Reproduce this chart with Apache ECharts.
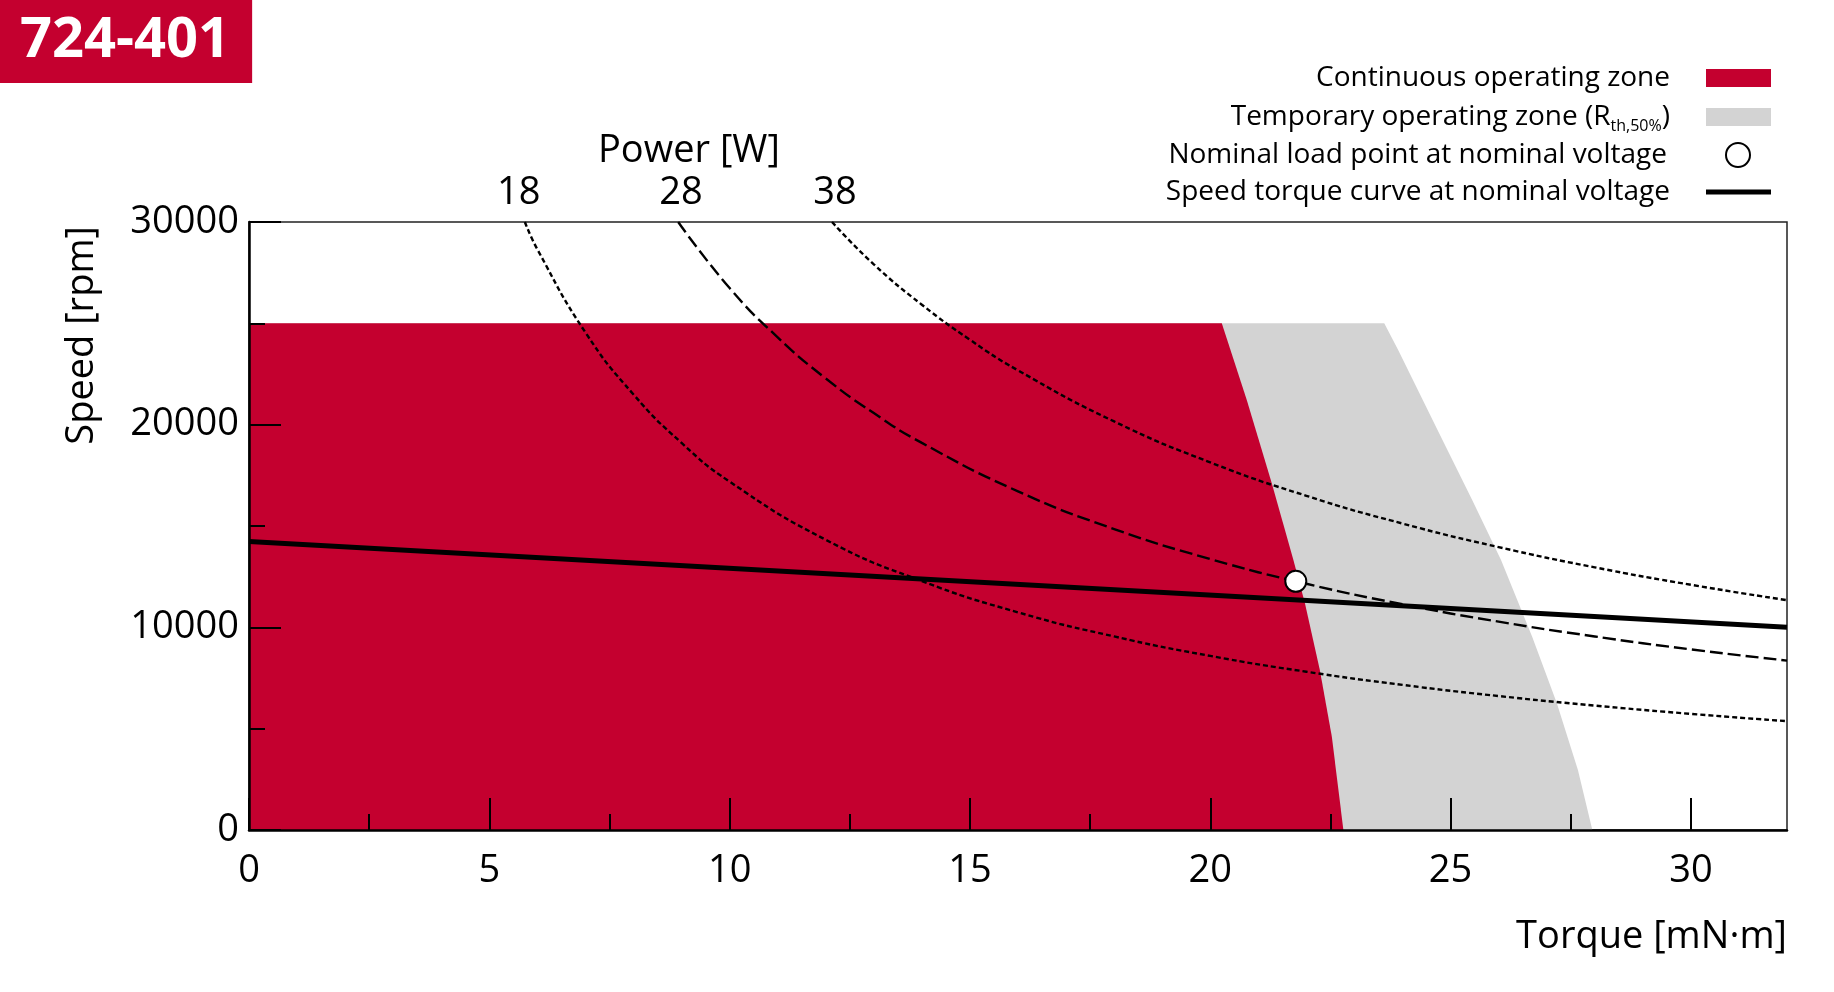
<!DOCTYPE html>
<html><head><meta charset="utf-8">
<script src="https://cdn.jsdelivr.net/npm/echarts@6/dist/echarts.min.js"></script>
<style>html,body{margin:0;padding:0;background:#fff}#chart{width:1834px;height:992px}</style>
</head><body><div id="chart"></div>
<script>
// ---- data ----
const torqueTicks = [0, 5, 10, 15, 20, 25, 30];
const torqueMinorTicks = [2.5, 7.5, 12.5, 17.5, 22.5, 27.5];
const speedMinorTicks = [5000, 15000, 25000];
const powerLabels = ['18', '28', '38'];
const powerLabelTorque = [5.61, 8.99, 12.19];

const continuousZone = [[0,25000],[20.24,25000],[20.76,21220],[21.28,17110],[21.73,13320],[21.97,11190],[22.28,7900],[22.53,4600],[22.77,0]];
const temporaryZone = [[0,25000],[23.62,25000],[23.91,23680],[24.76,19590],[25.45,16280],[26.05,13320],[26.70,9520],[27.21,6270],[27.65,2960],[27.95,0]];
const power18 = [[5.74,30000],[6,28650],[7,24550],[8,21490],[9,19100],[10,17190],[12,14320],[14,12280],[16,10740],[18,9550],[20,8590],[22,7810],[24,7160],[26,6610],[28,6140],[30,5730],[32,5370]];
const power28 = [[8.93,30000],[10,26740],[11,24310],[12,22280],[13,20570],[14,19100],[16,16710],[18,14850],[20,13370],[22,12150],[24,11140],[26,10280],[28,9550],[30,8910],[32,8360]];
const power38 = [[12.13,30000],[13,27910],[14,25920],[15,24190],[16,22680],[18,20160],[20,18140],[22,16490],[24,15120],[26,13960],[28,12960],[30,12100],[32,11340]];
const speedTorque = [[0,14230],[32,10000]];
const nominalPoint = [[21.78,12270]];

const NAME_CONT = 'Continuous operating zone';
const NAME_TEMP = 'Temporary operating zone (Rth,50%)';
const NAME_NOM = 'Nominal load point at nominal voltage';
const NAME_ST = 'Speed torque curve at nominal voltage';

// ---- styling ----
const FONT = 'Open Sans';
const RED = '#C4002F', GREY = '#D3D3D3';
const chart = echarts.init(document.getElementById('chart'), null, {renderer: 'canvas'});

function legend(name, icon, right, centerY, w, h, padRight, itemStyle, formatter) {
  const l = {
    data: [{name: name, icon: icon, itemStyle: itemStyle}],
    right: right, top: centerY - 17, orient: 'vertical', align: 'right',
    itemWidth: w, itemHeight: h, padding: 0, selectedMode: false,
    textStyle: {fontSize: 28, fontFamily: FONT, color: '#000', lineHeight: 34, padding: [0, padRight, 0, 0],
      rich: {sub: {fontSize: 16, fontFamily: FONT, color: '#000', lineHeight: 26, verticalAlign: 'bottom'}}}
  };
  if (formatter) l.formatter = formatter;
  return l;
}

const tickFont = {fontSize: 38, fontFamily: FONT, color: '#000'};

const option = {
  animation: false,
  backgroundColor: '#fff',
  title: [
    {text: '724-401', left: 0, top: 0, padding: [0, 22, 0, 20], backgroundColor: RED,
     textStyle: {color: '#fff', fontSize: 56, fontWeight: 'bold', fontFamily: FONT, lineHeight: 83}},
    {text: 'Power [W]', left: 598, top: 131, padding: 0,
     textStyle: {color: '#000', fontSize: 38, fontWeight: 'normal', fontFamily: FONT, lineHeight: 40}}
  ],
  legend: [
    legend(NAME_CONT, 'rect', 63, 78, 65, 18, 31, {color: RED}),
    legend(NAME_TEMP, 'rect', 63, 117, 65, 18, 31, {color: GREY}, function () { return 'Temporary operating zone (R{sub|th,50%})'; }),
    legend(NAME_NOM, 'circle', 83, 155, 24, 24, 54, {color: '#fff', borderColor: '#000', borderWidth: 2}),
    legend(NAME_ST, 'rect', 63, 192, 65, 5, 31, {color: '#000'})
  ],
  grid: {left: 249, top: 222, width: 1538, height: 608, show: true, borderColor: '#222', borderWidth: 1.5, outerBoundsMode: 'none', containLabel: false},
  xAxis: [
    {type: 'value', min: 0, max: 32, position: 'bottom', z: 10,
     axisLine: {show: true, lineStyle: {color: '#000', width: 2.5}},
     axisTick: {show: true, inside: true, length: 32, lineStyle: {color: '#000', width: 2}, customValues: torqueTicks},
     axisLabel: Object.assign({show: true, margin: 22, customValues: torqueTicks}, tickFont),
     splitLine: {show: false},
     name: 'Torque [mN·m]', nameLocation: 'end', nameGap: 0, nameMoveOverlap: false,
     nameTextStyle: {fontSize: 38, fontFamily: FONT, color: '#000', align: 'right', verticalAlign: 'top', lineHeight: 40, padding: [87, 0, 0, 0]}},
    {type: 'value', min: 0, max: 32, position: 'bottom', z: 10,
     axisLine: {show: false},
     axisTick: {show: true, inside: true, length: 16, lineStyle: {color: '#000', width: 2}, customValues: torqueMinorTicks},
     axisLabel: {show: false}, splitLine: {show: false}},
    {type: 'value', min: 0, max: 32, position: 'top', z: 10,
     axisLine: {show: false}, axisTick: {show: false}, splitLine: {show: false},
     axisLabel: Object.assign({show: true, margin: 10, customValues: powerLabelTorque,
       formatter: function (v) {
         let best = 0;
         for (let i = 1; i < powerLabelTorque.length; i++) if (Math.abs(powerLabelTorque[i] - v) < Math.abs(powerLabelTorque[best] - v)) best = i;
         return powerLabels[best];
       }}, tickFont)}
  ],
  yAxis: [
    {type: 'value', min: 0, max: 30000, interval: 10000, position: 'left', z: 10,
     axisLine: {show: true, lineStyle: {color: '#000', width: 2.5}},
     axisTick: {show: true, inside: true, length: 32, lineStyle: {color: '#000', width: 2}},
     axisLabel: Object.assign({show: true, margin: 10, formatter: function (v) { return String(v); }}, tickFont),
     splitLine: {show: false},
     name: 'Speed [rpm]', nameLocation: 'end', nameGap: -4, nameRotate: 90, nameMoveOverlap: false,
     nameTextStyle: {fontSize: 38, fontFamily: FONT, color: '#000', align: 'right', verticalAlign: 'bottom', lineHeight: 40, padding: [0, 0, 147, 0]}},
    {type: 'value', min: 0, max: 30000, position: 'left', z: 10,
     axisLine: {show: false},
     axisTick: {show: true, inside: true, length: 16, lineStyle: {color: '#000', width: 2}, customValues: speedMinorTicks},
     axisLabel: {show: false}, splitLine: {show: false}}
  ],
  series: [
    {name: NAME_TEMP, type: 'line', data: temporaryZone, showSymbol: false, symbol: 'none', color: GREY,
     lineStyle: {width: 0}, areaStyle: {color: GREY, opacity: 1}, itemStyle: {color: GREY}, z: 1},
    {name: NAME_CONT, type: 'line', data: continuousZone, showSymbol: false, symbol: 'none', color: RED,
     lineStyle: {width: 0}, areaStyle: {color: RED, opacity: 1}, itemStyle: {color: RED}, z: 2},
    {name: '18 W', type: 'line', data: power18, smooth: true, showSymbol: false, symbol: 'none',
     lineStyle: {color: '#000', width: 2.4, type: [5, 3]}, z: 3},
    {name: '28 W', type: 'line', data: power28, smooth: true, showSymbol: false, symbol: 'none',
     lineStyle: {color: '#000', width: 2.4, type: [13, 5]}, z: 3},
    {name: '38 W', type: 'line', data: power38, smooth: true, showSymbol: false, symbol: 'none',
     lineStyle: {color: '#000', width: 2.4, type: [5, 3]}, z: 3},
    {name: NAME_ST, type: 'line', data: speedTorque, showSymbol: false, symbol: 'none', color: '#000',
     lineStyle: {color: '#000', width: 5}, itemStyle: {color: '#000'}, z: 4},
    {name: NAME_NOM, type: 'scatter', data: nominalPoint, symbol: 'circle', symbolSize: 21,
     itemStyle: {color: '#fff', borderColor: '#000', borderWidth: 2, opacity: 1}, z: 5}
  ]
};
chart.setOption(option);
</script></body></html>
